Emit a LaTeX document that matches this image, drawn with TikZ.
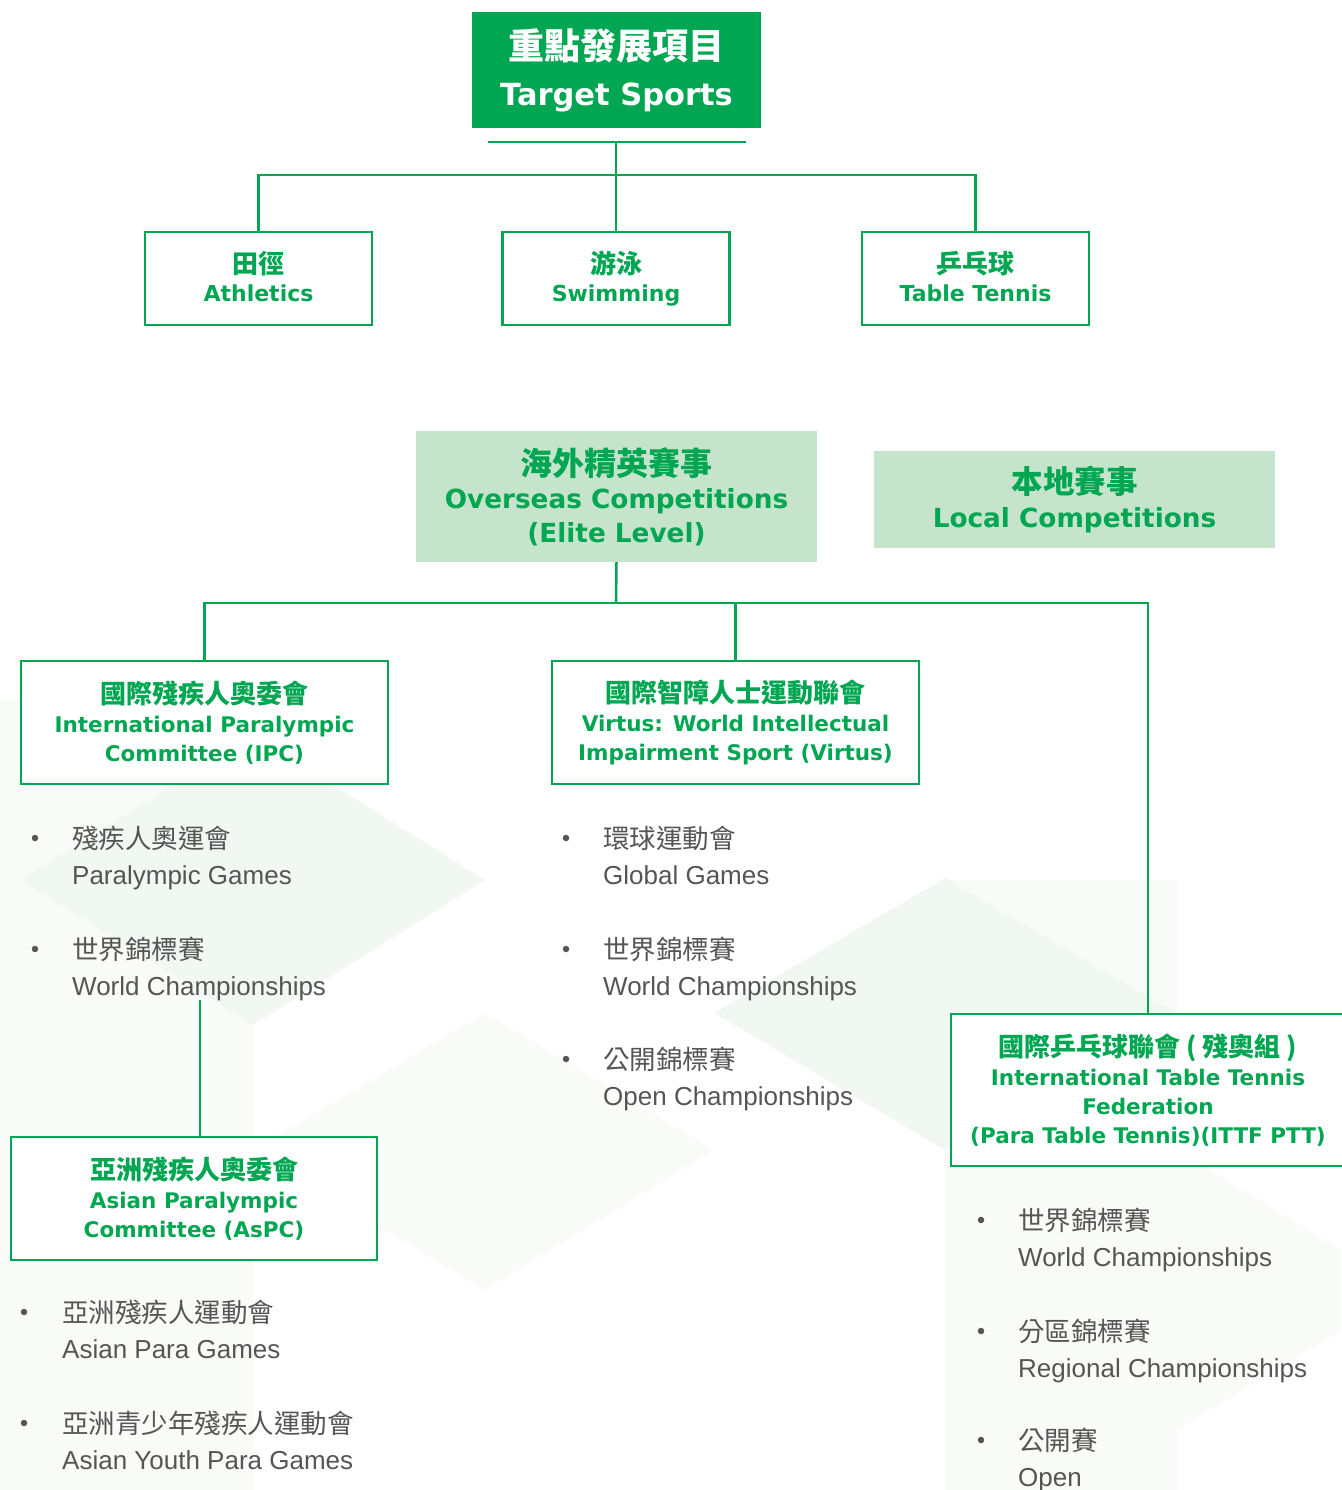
\documentclass[tikz,border=0pt]{standalone}
\usepackage{fontspec}
\setmainfont{DejaVu Sans}
\newfontfamily\cjk{Noto Sans CJK TC}
\newfontfamily\arial{Liberation Sans}
\usepackage{tikz}

\definecolor{ttgreen}{HTML}{00A651}
\definecolor{ttlight}{HTML}{C5E4CB}
\definecolor{ttgray}{HTML}{555555}
\definecolor{ttbg}{HTML}{F1F8F2}
\definecolor{ttbgb}{HTML}{F8FBF8}

\newcommand{\zh}[1]{{\cjk\bfseries #1}}

\tikzset{
    link/.style={draw=ttgreen, line width=2.5pt},
    topbox/.style={fill=ttgreen, text=white, align=center, inner sep=0pt,
        minimum width=289pt, minimum height=116pt,
        font=\bfseries\fontsize{30.5}{46}\selectfont},
    sportbox/.style={draw=ttgreen, line width=2.5pt, fill=white, text=ttgreen, align=center,
        inner sep=0pt, minimum width=227pt, minimum height=93pt,
        font=\bfseries\fontsize{22}{28}\selectfont},
    levelbox/.style={fill=ttlight, text=ttgreen, align=center, inner sep=0pt,
        minimum width=401pt, font=\bfseries\fontsize{26.3}{33.5}\selectfont},
    orgbox/.style={draw=ttgreen, line width=2.5pt, fill=white, text=ttgreen, align=center,
        inner sep=0pt, font=\bfseries\fontsize{21.5}{29}\selectfont},
    dot/.style={circle, fill=ttgray, inner sep=0pt, minimum size=6.5pt},
    item/.style={anchor=base west, align=left, inner sep=0pt, text=ttgray,
        font=\arial\fontsize{26}{35.5}\selectfont}
}

\begin{document}
\begin{tikzpicture}[x=1pt, y=-1pt]
    \useasboundingbox (0,0) rectangle (1341,1490);

    % Hintergrund.
    \fill[ttbgb] (0,700) rectangle (253,1490);
    \fill[ttbgb] (945,880) rectangle (1177,1490);
    \fill[ttbg] (20,880) -- (253,735) -- (485,880) -- (253,1025) -- cycle;
    \fill[ttbg] (714,1013) -- (945,878) -- (1177,1013) -- (945,1150) -- cycle;
    \fill[ttbgb] (253,1150) -- (485,1013) -- (714,1150) -- (485,1290) -- cycle;
    \fill[ttbgb] (945,1290) -- (1177,1150) -- (1341,1250) -- (1341,1330) -- (1177,1430) -- cycle;
    \fill[ttbgb] (0,1330) -- (253,1200) -- (253,1460) -- cycle;

    % Kaesten oben.
    \node[topbox] (top) at (616.5,70) {{\cjk\bfseries\fontsize{36}{36}\selectfont 重點發展項目}\\Target Sports};

    \node[sportbox] (ath)  at (258.5,278.5) {{\fontsize{26}{26}\selectfont\zh{田徑}}\\Athletics\vphantom{g}};
    \node[sportbox] (swim) at (616,278.5)   {{\fontsize{26}{26}\selectfont\zh{游泳}}\\Swimming};
    \node[sportbox] (tt)   at (975.5,278.5) {{\fontsize{26}{26}\selectfont\zh{乒乓球}}\\Table Tennis\vphantom{g}};

    \coordinate (barL) at (488,142);
    \coordinate (barR) at (746,142);
    \coordinate (bar)  at (616,142);
    \coordinate (fork) at (616,175);
    \draw[link] (barL) -- (barR);
    \draw[link] (bar) -- (swim.north);
    \draw[link] (ath.north) |- (fork) -| (tt.north);

    % Wettkaempfe.
    \node[levelbox, minimum height=131pt] (over) at (616.5,496.5)
        {{\fontsize{32}{32}\selectfont\zh{海外精英賽事}}\\Overseas Competitions\\(Elite Level)};
    \node[levelbox, minimum height=97pt] (local) at (1074.5,499.5)
        {{\fontsize{31.5}{31.5}\selectfont\zh{本地賽事}}\\Local Competitions};

    % Verbaende.
    \node[orgbox, minimum width=367pt, minimum height=123pt] (ipc) at (204.5,722.5)
        {{\fontsize{26}{26}\selectfont\zh{國際殘疾人奧委會}}\\International Paralympic\\Committee (IPC)};
    \node[orgbox, minimum width=367pt, minimum height=123pt] (virtus) at (735.5,722.5)
        {{\fontsize{26}{26}\selectfont\zh{國際智障人士運動聯會}}\\Virtus: World Intellectual\\Impairment Sport (Virtus)};
    \node[orgbox, minimum width=394pt, minimum height=152pt] (ittf) at (1148,1090)
        {{\fontsize{26}{26}\selectfont\zh{國際乒乓球聯會 ( 殘奧組 )}}\\International Table Tennis\\Federation\\(Para Table Tennis)(ITTF PTT)};
    \node[orgbox, minimum width=366pt, minimum height=123pt] (aspc) at (194,1198.5)
        {{\fontsize{26}{26}\selectfont\zh{亞洲殘疾人奧委會}}\\Asian Paralympic\\Committee (AsPC)};

    \coordinate (hub) at (616,603);
    \draw[link] (over.south) -- (hub);
    \draw[link] (ipc.north) |- (hub) -| (ittf.north);
    \draw[link] (virtus.north) -- (virtus.north |- hub);

    \coordinate (ipcfoot) at (200,1000);
    \draw[link] (ipcfoot) -- (ipcfoot |- aspc.north);

    % Listen.
    \foreach \k/\y/\zhtext/\entext in {1/838/殘疾人奧運會/Paralympic Games, 2/949/世界錦標賽/World Championships}
    {
        \node[dot] (ipcdot\k) at (35,\y) {};
        \node[item] (ipcitem\k) at (72,{\y+46}) {{\cjk\fontsize{26.5}{26.5}\selectfont \zhtext}\\\entext};
    }
    \foreach \k/\y/\zhtext/\entext in {1/838/環球運動會/Global Games, 2/949/世界錦標賽/World Championships, 3/1059/公開錦標賽/Open Championships}
    {
        \node[dot] (virdot\k) at (566,\y) {};
        \node[item] (viritem\k) at (603,{\y+46}) {{\cjk\fontsize{26.5}{26.5}\selectfont \zhtext}\\\entext};
    }
    \foreach \k/\y/\zhtext/\entext in {1/1312/亞洲殘疾人運動會/Asian Para Games, 2/1423/亞洲青少年殘疾人運動會/Asian Youth Para Games}
    {
        \node[dot] (asdot\k) at (24,\y) {};
        \node[item] (asitem\k) at (62,{\y+46}) {{\cjk\fontsize{26.5}{26.5}\selectfont \zhtext}\\\entext};
    }
    \foreach \k/\y/\zhtext/\entext in {1/1220/世界錦標賽/World Championships, 2/1331/分區錦標賽/Regional Championships, 3/1440/公開賽/Open}
    {
        \node[dot] (ttdot\k) at (981,\y) {};
        \node[item] (ttitem\k) at (1018,{\y+46}) {{\cjk\fontsize{26.5}{26.5}\selectfont \zhtext}\\\entext};
    }
\end{tikzpicture}
\end{document}
